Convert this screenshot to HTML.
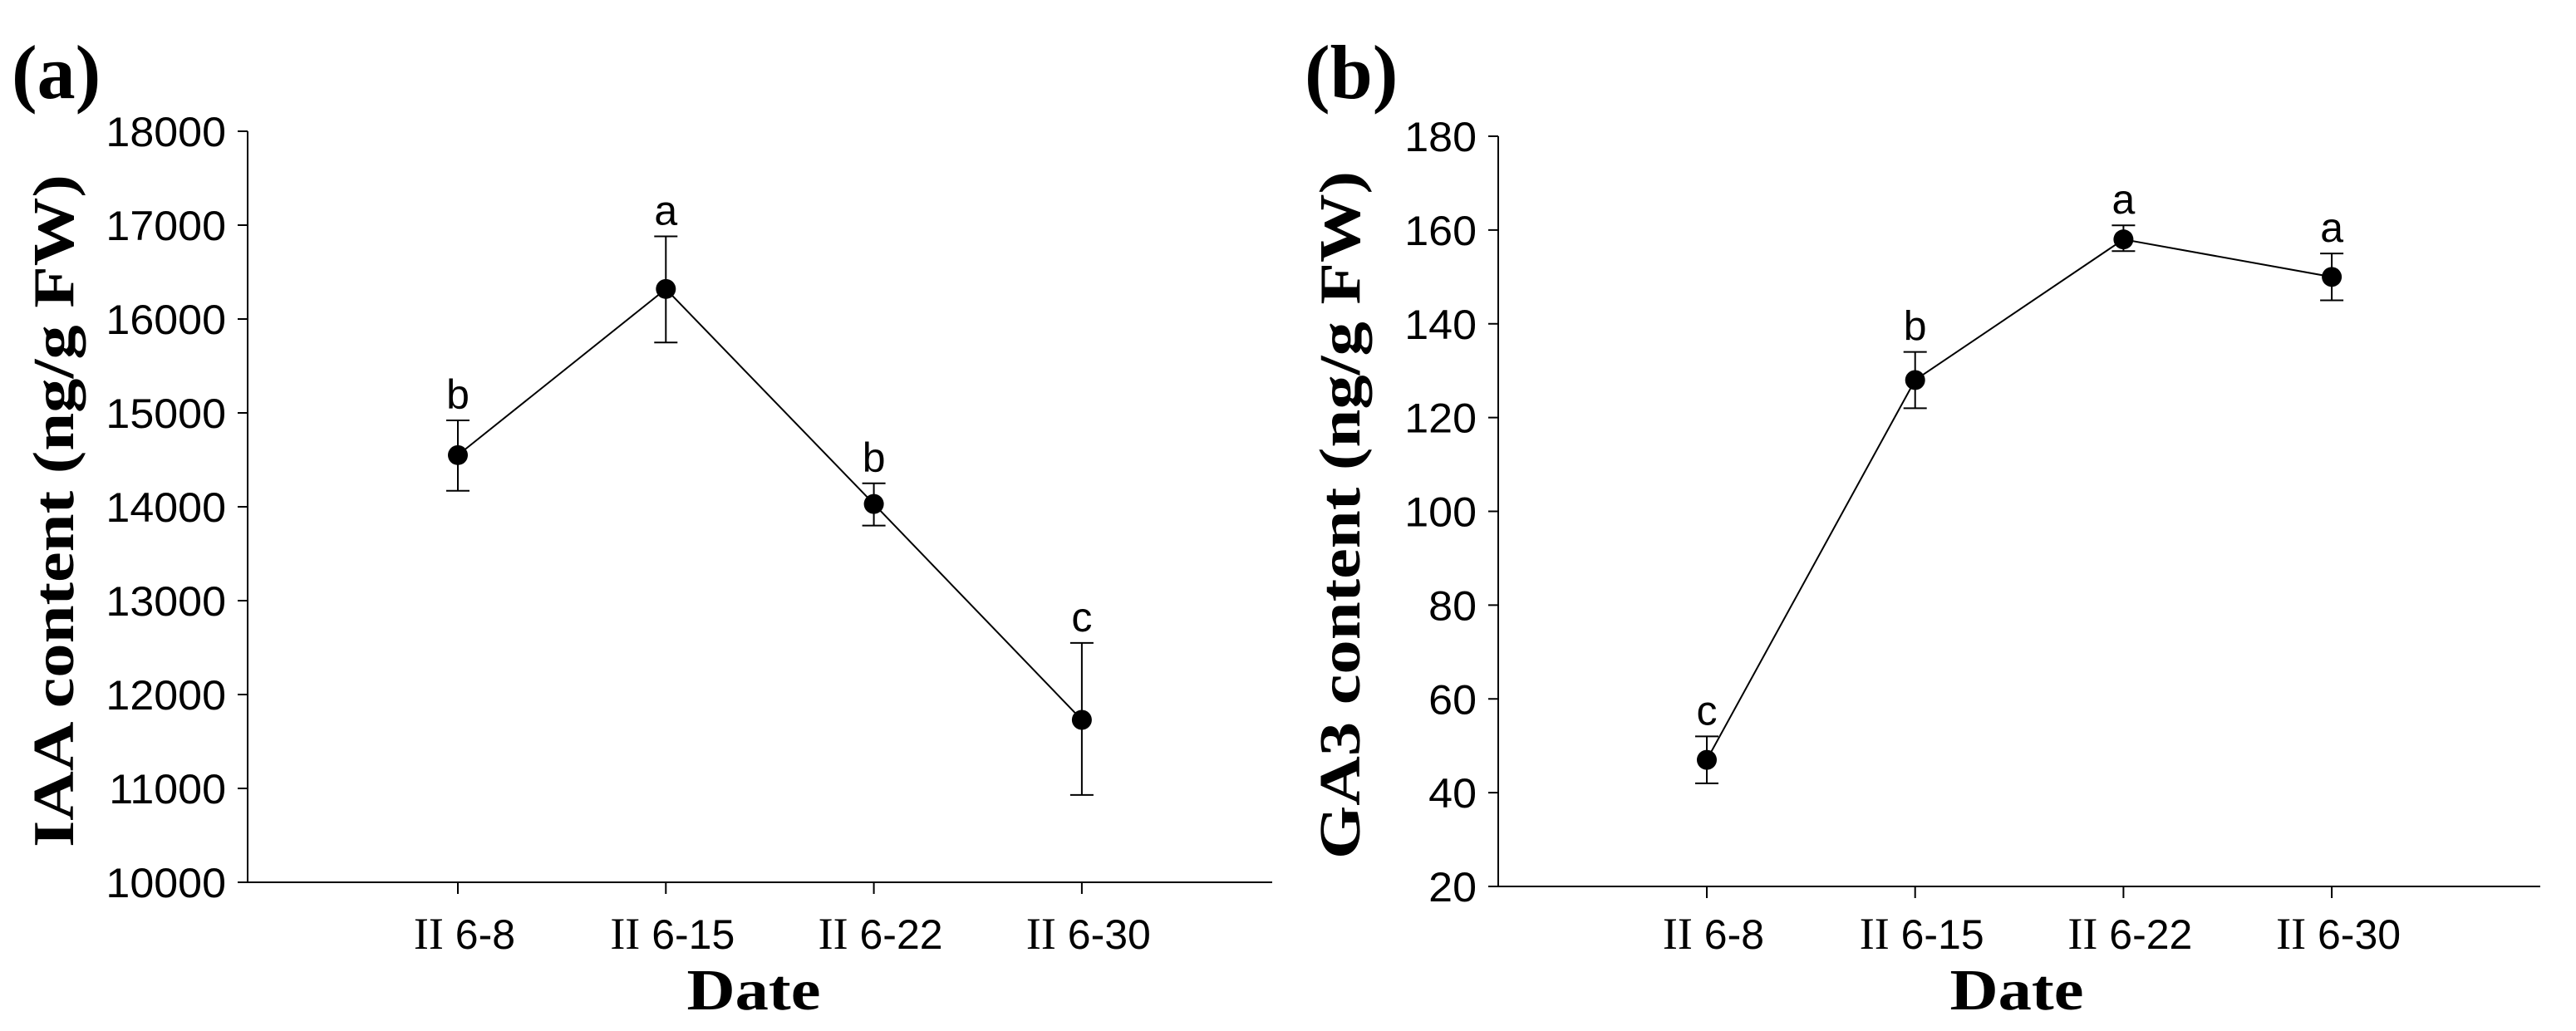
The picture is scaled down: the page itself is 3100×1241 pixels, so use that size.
<!DOCTYPE html>
<html><head><meta charset="utf-8"><style>
html,body{margin:0;padding:0;background:#fff;overflow:hidden;}
svg{display:block;}
.tick{font-family:"Liberation Sans",Arial,sans-serif;font-size:50px;fill:#000;}
.rn{font-family:"Liberation Serif","Times New Roman",serif;}
.ttl{font-family:"Liberation Serif","Times New Roman",serif;font-weight:bold;font-size:70px;fill:#000;}
.pl{font-family:"Liberation Serif","Times New Roman",serif;font-weight:bold;font-size:92px;fill:#000;}
</style></head><body>
<svg id="svg" width="3100" height="1241" viewBox="0 0 3100 1241" xmlns="http://www.w3.org/2000/svg"></svg>
<script>
const categories = ["6-8","6-15","6-22","6-30"];
const iaaValues = [14550, 16320, 14030, 11730];
const iaaErrLow = [14170, 15750, 13800, 10930];
const iaaErrHigh = [14920, 16880, 14250, 12550];
const iaaLetters = ["b","a","b","c"];
const iaaTicks = [10000,11000,12000,13000,14000,15000,16000,17000,18000];
const gaValues = [47, 128, 158, 150];
const gaErrLow = [42, 122, 155.5, 145];
const gaErrHigh = [52, 134, 161, 155];
const gaLetters = ["c","b","a","a"];
const gaTicks = [20,40,60,80,100,120,140,160,180];

const svg = document.getElementById('svg');
const NS = 'http://www.w3.org/2000/svg';
function mk(tag, attrs, parent){const e=document.createElementNS(NS,tag);for(const k in attrs)e.setAttribute(k,attrs[k]);(parent||svg).appendChild(e);return e;}

function panel(cfg){
  const g = mk('g',{});
  
  
  const x0=cfg.x0, x1=cfg.x1, yTop=cfg.yTop, yBot=cfg.yBot;
  const vmin=cfg.ticks[0], vmax=cfg.ticks[cfg.ticks.length-1];
  const ys = v => yBot - (v-vmin)/(vmax-vmin)*(yBot-yTop);
  const xs = i => cfg.xFirst + i*cfg.xStep;
  const ya = mk('line',{x1:x0,y1:yTop,x2:x0,y2:yBot,stroke:'#000','stroke-width':2},g);
  
  
  const xa = mk('line',{x1:x0,y1:yBot,x2:x1,y2:yBot,stroke:'#000','stroke-width':2},g);
  
  
  cfg.ticks.forEach(t=>{
    const y=ys(t);
    mk('line',{x1:x0-12,y1:y,x2:x0,y2:y,stroke:'#000','stroke-width':2},g);
    const tx=mk('text',{x:0,y:0,'text-anchor':'end',class:'tick',transform:`translate(${x0-26},${y+18}) scale(1.04,1)`},g);
    tx.textContent=t;
    
    
  });
  categories.forEach((c,i)=>{
    const x=xs(i);
    mk('line',{x1:x,y1:yBot,x2:x,y2:yBot+14,stroke:'#000','stroke-width':2},g);
    const tx=mk('text',{x:x+8,y:1142,'text-anchor':'middle',class:'tick'},g);
    const t1=mk('tspan',{class:'rn','font-size':'54'},tx);
    t1.textContent='II';
    const t2=mk('tspan',{},tx);
    t2.textContent=' '+c;
    
    
  });
  const pts = cfg.values.map((v,i)=>xs(i)+','+ys(v)).join(' ');
  const pl = mk('polyline',{points:pts,fill:'none',stroke:'#000','stroke-width':2},g);
  
  
  cfg.values.forEach((v,i)=>{
    const x=xs(i);
    const eb=mk('path',{d:`M${x},${ys(cfg.lo[i])}V${ys(cfg.hi[i])}M${x-14},${ys(cfg.lo[i])}H${x+14}M${x-14},${ys(cfg.hi[i])}H${x+14}`,stroke:'#000','stroke-width':2,fill:'none'},g);
    
    
    const c=mk('circle',{cx:x,cy:ys(v),r:12,fill:'#000'},g);
    
    
    const lt=mk('text',{x:x,y:ys(cfg.hi[i])-14,'text-anchor':'middle',class:'tick','font-size':'54'},g);
    lt.textContent=cfg.letters[i];
    
    
  });
  const yt=mk('text',{x:0,y:0,'text-anchor':'middle',class:'ttl',transform:`translate(${cfg.ytX},${cfg.ytY}) rotate(-90) scale(1.18,1)`},g);
  yt.textContent=cfg.ytitle;
  
  
  const xt=mk('text',{x:0,y:0,'text-anchor':'middle',class:'ttl',transform:`translate(${cfg.xtX},1215) scale(1.15,1)`},g);
  xt.textContent='Date';
  
  
  const p=mk('text',{x:cfg.plX,y:118,class:'pl'},g);
  p.textContent=cfg.pl;
  
  
}

panel({name:'iaa-chart',x0:298,x1:1531,yTop:158,yBot:1062,xFirst:551,xStep:250.3,ticks:iaaTicks,values:iaaValues,lo:iaaErrLow,hi:iaaErrHigh,letters:iaaLetters,ytitle:'IAA content (ng/g FW)',ytX:88,ytY:615,xtX:907,pl:'(a)',plX:14});
panel({name:'ga3-chart',x0:1803,x1:3057,yTop:164,yBot:1067,xFirst:2054,xStep:250.7,ticks:gaTicks,values:gaValues,lo:gaErrLow,hi:gaErrHigh,letters:gaLetters,ytitle:'GA3 content (ng/g FW)',ytX:1636,ytY:620,xtX:2427,pl:'(b)',plX:1570});
</script>
</body></html>
